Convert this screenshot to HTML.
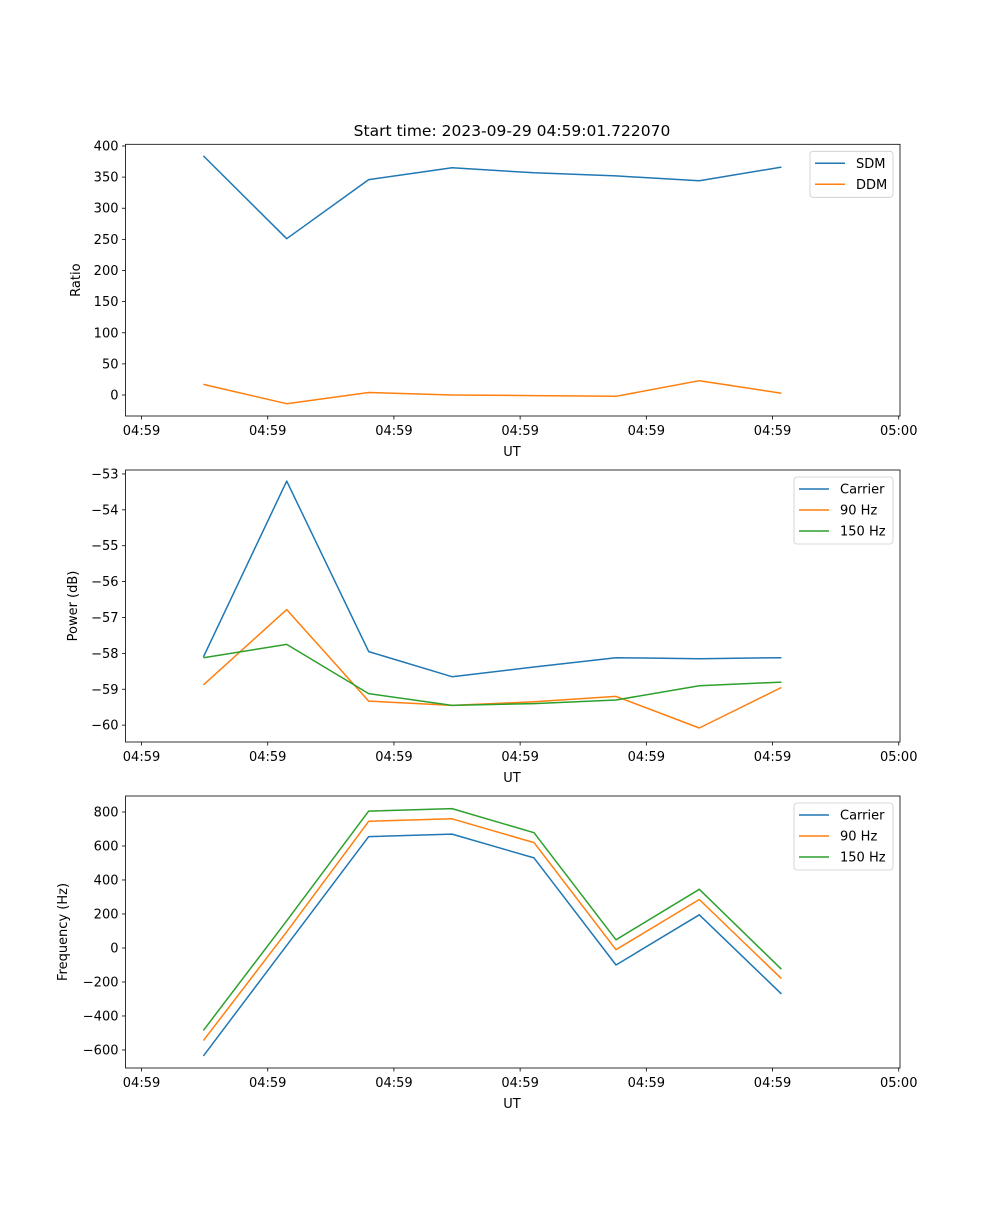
<!DOCTYPE html>
<html><head><meta charset="utf-8"><style>
body{margin:0;background:#fff}
svg text{font-family:"DejaVu Sans","Liberation Sans",sans-serif;font-size:13px;fill:#000}
</style></head><body>
<svg id="fig" width="1000" height="1200" xmlns="http://www.w3.org/2000/svg">
<rect width="1000" height="1200" fill="#fff"/>
<text x="512" y="136" text-anchor="middle" style="font-size:15.5px">Start time: 2023-09-29 04:59:01.722070</text>
</svg>
<script>
const times=[4.9,11.5,18.0,24.6,31.1,37.6,44.2,50.7];
const xTickVals=[0,10,20,30,40,50,60];
const xTickLabels=["04:59","04:59","04:59","04:59","04:59","04:59","05:00"];
const sdm=[384,251,346,365,357,352,344,366];
const ddm=[17,-14,4,0,-1,-2,23,3];
const pwrCarrier=[-58.1,-53.2,-57.95,-58.65,-58.38,-58.12,-58.15,-58.12];
const pwr90=[-58.88,-56.78,-59.33,-59.45,-59.35,-59.2,-60.08,-58.95];
const pwr150=[-58.12,-57.75,-59.12,-59.45,-59.4,-59.3,-58.9,-58.8];
const frqCarrier=[-635,15,655,670,530,-100,195,-270];
const frq90=[-545,95,745,760,620,-10,285,-180];
const frq150=[-485,160,805,820,678,48,345,-125];
const ratioTicks=[0,50,100,150,200,250,300,350,400];
const powerTicks=[-60,-59,-58,-57,-56,-55,-54,-53];
const powerTickLabels=["\u221260","\u221259","\u221258","\u221257","\u221256","\u221255","\u221254","\u221253"];
const freqTicks=[-600,-400,-200,0,200,400,600,800];
const freqTickLabels=["\u2212600","\u2212400","\u2212200","0","200","400","600","800"];

const NS="http://www.w3.org/2000/svg";
const svg=document.getElementById('fig');
function mk(tag,attrs,parent){const e=document.createElementNS(NS,tag);for(const k in attrs)e.setAttribute(k,attrs[k]);(parent||svg).appendChild(e);return e;}
const L=125.5,R=900,X0=-1.27,X1=60.1;
function xs(t){return L+(t-X0)/(X1-X0)*(R-L);}

function panel(name,top,bottom,ymin,ymax,yticks,ylabels,ytitle,series,legend){
  const g=mk('g',{});
  
  
  const ys=v=>bottom-(v-ymin)/(ymax-ymin)*(bottom-top);
  yticks.forEach((v,i)=>{
    const y=ys(v);
    const tk=mk('line',{x1:L-3.5,x2:L,y1:y,y2:y,stroke:'#000','stroke-width':0.8},g);
    
    
    const t=mk('text',{x:L-7,y:y+4.5,'text-anchor':'end'},g);
    
    
    t.textContent=ylabels[i];
  });
  xTickVals.forEach((v,i)=>{
    const x=xs(v);
    const tk=mk('line',{x1:x,x2:x,y1:bottom,y2:bottom+3.5,stroke:'#000','stroke-width':0.8},g);
    
    
    const t=mk('text',{x:x,y:bottom+19,'text-anchor':'middle'},g);
    
    
    t.textContent=xTickLabels[i];
  });
  const xt=mk('text',{x:512,y:bottom+40,'text-anchor':'middle'},g);
  
  
  xt.textContent='UT';
  const yt=mk('text',{x:0,y:0,'text-anchor':'middle',transform:`translate(${ytitle[1]},${(top+bottom)/2}) rotate(-90)`},g);
  
  
  yt.textContent=ytitle[0];
  series.forEach(s=>{
    const p=mk('polyline',{points:s.vals.map((v,i)=>xs(times[i]).toFixed(1)+','+ys(v).toFixed(1)).join(' '),fill:'none',stroke:s.c,'stroke-width':1.5,'stroke-linejoin':'round'},g);
    
    
  });
  const fr=mk('rect',{x:L,y:top,width:R-L,height:bottom-top,fill:'none',stroke:'#000','stroke-width':0.8},g);
  
  
  const lg=mk('g',{},g);
  
  
  mk('rect',{x:legend[0],y:top+7,width:legend[1],height:series.length*21+4,rx:3,fill:'#fff',stroke:'#ccc','stroke-width':0.8},lg);
  series.forEach((s,i)=>{
    const y=top+19+i*21;
    mk('line',{x1:legend[0]+5,x2:legend[0]+35,y1:y,y2:y,stroke:s.c,'stroke-width':1.5},lg);
    const t=mk('text',{x:legend[0]+46,y:y+4.5},lg);
    
    
    t.textContent=s.n;
  });
}
const C1='#1f77b4',C2='#ff7f0e',C3='#2ca02c';
panel('ratio-panel',144.3,416,-33.7,402.7,ratioTicks,ratioTicks.map(String),['Ratio',80],
  [{n:'SDM',vals:sdm,c:C1},{n:'DDM',vals:ddm,c:C2}],[810,83]);
panel('power-panel',470,742,-60.47,-52.89,powerTicks,powerTickLabels,['Power (dB)',77],
  [{n:'Carrier',vals:pwrCarrier,c:C1},{n:'90 Hz',vals:pwr90,c:C2},{n:'150 Hz',vals:pwr150,c:C3}],[794,99]);
panel('frequency-panel',796,1068,-706,894,freqTicks,freqTickLabels,['Frequency (Hz)',67],
  [{n:'Carrier',vals:frqCarrier,c:C1},{n:'90 Hz',vals:frq90,c:C2},{n:'150 Hz',vals:frq150,c:C3}],[794,99]);
</script>
</body></html>
